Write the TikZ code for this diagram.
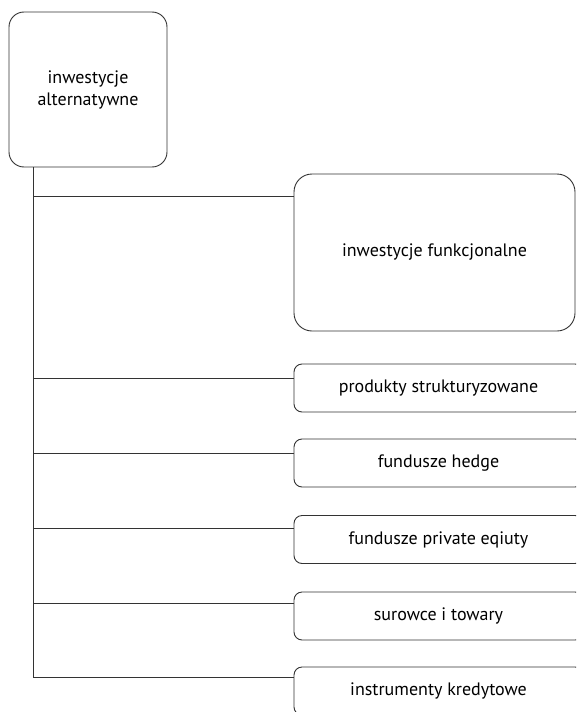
\documentclass[tikz,border=0pt]{standalone}
\usepackage{fontspec}
\setmainfont{PT Sans}
\usetikzlibrary{calc}

\tikzset{
  box/.style={draw=black!80, line width=0.9pt, align=center, inner sep=0pt, font=\fontsize{18}{22}\selectfont},
  bigbox/.style={box, rounded corners=18pt},
  itembox/.style={box, rounded corners=8pt, minimum width=289pt, minimum height=48pt},
  link/.style={draw=black!80, line width=0.9pt}
}

\begin{document}
\begin{tikzpicture}[x=1pt, y=-1pt]
  \useasboundingbox (0,0) rectangle (576,712);
  \clip (0,0) rectangle (576,712);
  % root and the wide first box
  \node[bigbox, rounded corners=15pt, minimum width=158pt, minimum height=155pt] (root) at (88,89.5) {inwestycje\\alternatywne};
  \node[bigbox, minimum width=281pt, minimum height=157pt] (funk) at (434.5,252.5) {inwestycje funkcjonalne};
  % the other branches
  \node[itembox] (prod) at (438.5,388) {produkty strukturyzowane};
  \node[itembox] (hedge) at (438.5,463) {fundusze hedge};
  \node[itembox] (priv) at (438.5,539.5) {fundusze private eqiuty};
  \node[itembox] (sur) at (438.5,616) {surowce i towary};
  \node[itembox] (kred) at (438.5,691) {instrumenty kredytowe};
  % trunk and branches
  \coordinate (trunk) at ($(root.south west)+(25,0)$);
  \draw[link] (trunk) |- ($(funk.north west)+(0,23)$);
  \draw[link] (trunk) |- ($(prod.north west)+(0,15)$);
  \draw[link] (trunk) |- ($(hedge.north west)+(0,15)$);
  \draw[link] (trunk) |- ($(priv.north west)+(0,13)$);
  \draw[link] (trunk) |- ($(sur.north west)+(0,12)$);
  \draw[link] (trunk) |- ($(kred.north west)+(0,11)$);
\end{tikzpicture}
\end{document}
